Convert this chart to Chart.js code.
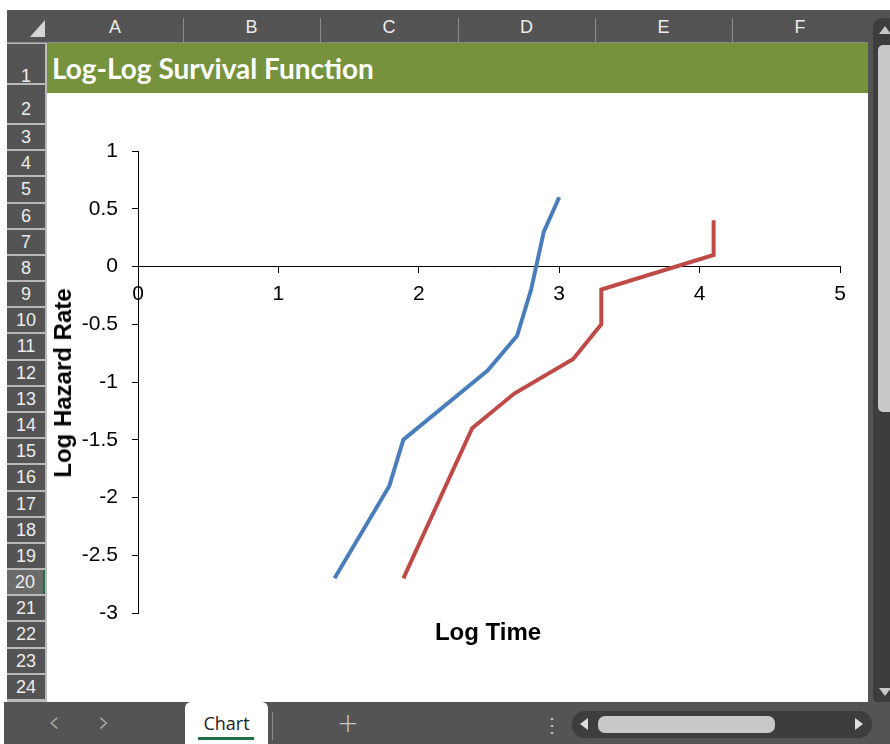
<!DOCTYPE html>
<html>
<head>
<meta charset="utf-8">
<script src="https://cdn.jsdelivr.net/npm/chart.js@4.4.1/dist/chart.umd.min.js"></script>
<style>
  html, body { margin: 0; padding: 0; background: #fff; }
  body { width: 890px; height: 744px; position: relative; overflow: hidden; font-family: "Liberation Sans", Arial, sans-serif; }
  .abs { position: absolute; }
  #colHeader { left: 7px; top: 10px; width: 861px; height: 33px; background: #545454; border-bottom: 1px solid #8d8d8d; box-sizing: border-box; }
  .colSep { position: absolute; top: 8px; width: 1px; height: 25px; background: #8d8d8d; }
  .colLbl { position: absolute; top: 0; height: 32px; line-height: 34px; color: #ececec; font-size: 18px; text-align: center; }
  #corner { left: 30px; top: 20px; width: 0; height: 0; border-left: 15px solid transparent; border-bottom: 17px solid #d4d4d4; }
  #rowHeader { left: 7px; top: 43px; width: 40px; height: 659px; background: #b9b9b9; }
  .rowBox { position: absolute; left: 0; width: 38px; background: #545454; color: #ececec; font-size: 18px; text-align: center; box-sizing: border-box; }
  #band { left: 47px; top: 43px; width: 821px; height: 50px; background: #76923c; }
  #bandTitle { left: 52px; top: 51px; color: #fff; font-family: "Lato", "Open Sans", sans-serif; font-weight: bold; font-size: 28px; white-space: nowrap; }
  #chartBox { left: 47px; top: 93px; width: 821px; height: 609px; }
  .axTitle { position: absolute; font-weight: bold; font-size: 24px; color: #000; white-space: nowrap; }
  #rightStrip { left: 868px; top: 10px; width: 22px; height: 692px; background: #545454; }
  #vTrack { left: 873px; top: 18px; width: 24px; height: 687px; background: #3d3d3d; border-radius: 9px; }
  #vThumb { left: 878px; top: 45px; width: 16px; height: 367px; background: #c8c8c8; border-radius: 5px; }
  #bottomBar { left: 4px; top: 702px; width: 886px; height: 42px; background: #545454; }
  #tab { left: 185px; top: 702px; width: 83px; height: 42px; background: #fff; border-radius: 6px 6px 0 0; }
  #tabText { left: 185px; top: 711px; width: 83px; text-align: center; font-family: "Open Sans", "Noto Sans", sans-serif; font-size: 18px; color: #222; }
  #tabLine { left: 198px; top: 737px; width: 56px; height: 3px; background: #1e7145; }
  .barGlyph { position: absolute; color: #a8a8a8; font-size: 30px; line-height: 30px; font-family: "DejaVu Sans", sans-serif; font-weight: 200; }
  #hTrack { left: 572px; top: 711px; width: 300px; height: 27px; background: #3d3d3d; border-radius: 13px; }
  #hThumb { left: 598px; top: 716px; width: 177px; height: 17px; background: #c8c8c8; border-radius: 7px; }
</style>
</head>
<body>
<div id="colHeader" class="abs"></div>
<div id="corner" class="abs"></div>
<div id="rowHeader" class="abs"></div>
<div id="band" class="abs"></div>
<div id="bandTitle" class="abs">Log-Log Survival Function</div>
<div id="rightStrip" class="abs"></div>
<div id="vTrack" class="abs"></div>
<div id="vThumb" class="abs"></div>
<div class="abs" style="left:879px;top:26px;width:0;height:0;border-left:6px solid transparent;border-right:6px solid transparent;border-bottom:8px solid #c8c8c8;"></div>
<div class="abs" style="left:879px;top:688px;width:0;height:0;border-left:6px solid transparent;border-right:6px solid transparent;border-top:8px solid #c8c8c8;"></div>

<div id="chartBox" class="abs"><canvas id="chart" width="821" height="609"></canvas></div>
<div class="axTitle" style="left:488px;top:632px;transform:translate(-50%,-50%);">Log Time</div>
<div class="axTitle" style="left:63px;top:383px;transform:translate(-50%,-50%) rotate(-90deg);">Log Hazard Rate</div>

<div id="bottomBar" class="abs"></div>
<div id="tab" class="abs"></div>
<div id="tabText" class="abs">Chart</div>
<div id="tabLine" class="abs"></div>
<div class="abs" style="left:272px;top:712px;width:1px;height:28px;background:#8d8d8d;"></div>
<div class="barGlyph" style="left:48px;top:707px;">‹</div>
<div class="barGlyph" style="left:98px;top:707px;">›</div>
<div class="barGlyph" style="left:337px;top:708px;color:#c8c8c8;font-size:26px;">+</div>
<div class="barGlyph" style="left:542px;top:710px;color:#c8c8c8;font-size:20px;">⋮</div>
<div id="hTrack" class="abs"></div>
<div id="hThumb" class="abs"></div>
<div class="abs" style="left:580px;top:718px;width:0;height:0;border-top:6px solid transparent;border-bottom:6px solid transparent;border-right:8px solid #e0e0e0;"></div>
<div class="abs" style="left:855px;top:718px;width:0;height:0;border-top:6px solid transparent;border-bottom:6px solid transparent;border-left:8px solid #e0e0e0;"></div>

<script>
// spreadsheet labels
const columnLetters = ["A", "B", "C", "D", "E", "F"];
const rowNumbers = Array.from({ length: 24 }, (_, i) => i + 1);

// series
const logTimeBlue = [1.40, 1.79, 1.89, 2.49, 2.70, 2.80, 2.89, 3.00];
const logHazardBlue = [-2.70, -1.90, -1.50, -0.90, -0.60, -0.20, 0.30, 0.60];
const logTimeRed = [1.89, 2.38, 2.68, 3.10, 3.30, 3.30, 4.10, 4.10];
const logHazardRed = [-2.70, -1.40, -1.10, -0.80, -0.50, -0.20, 0.10, 0.40];

// axis ranges
const xMin = 0, xMax = 5, xStep = 1;
const yMin = -3, yMax = 1, yStep = 0.5;

// column header
const colEdges = [47, 183, 320, 458, 595, 732, 868];
const colHeader = document.getElementById("colHeader");
columnLetters.forEach((letter, i) => {
  const lbl = document.createElement("div");
  lbl.className = "colLbl";
  lbl.style.left = (colEdges[i] - 7) + "px";
  lbl.style.width = (colEdges[i + 1] - colEdges[i]) + "px";
  lbl.textContent = letter;
  colHeader.appendChild(lbl);
  if (i > 0) {
    const sep = document.createElement("div");
    sep.className = "colSep";
    sep.style.left = (colEdges[i] - 7) + "px";
    colHeader.appendChild(sep);
  }
});

// row header
const rowHeader = document.getElementById("rowHeader");
rowNumbers.forEach((n) => {
  let top, h;
  if (n === 1) { top = 0; h = 41; }
  else if (n === 2) { top = 41; h = 40; }
  else { top = 81 + (n - 3) * 26.18; h = 26.18; }
  const box = document.createElement("div");
  box.className = "rowBox";
  box.style.top = (top + 1) + "px";
  box.style.height = (h - 2) + "px";
  if (n === 1) {
    box.style.lineHeight = "normal";
    box.style.paddingTop = "22px";
  } else if (n === 2) {
    box.style.lineHeight = "normal";
    box.style.paddingTop = "14px";
  } else {
    box.style.lineHeight = (h - 2) + "px";
  }
  if (n === 20) {
    box.style.background = "#6b6b6b";
    box.style.borderRight = "2px solid #1e7145";
  }
  box.textContent = n;
  rowHeader.appendChild(box);
});

function pairs(xs, ys) {
  return xs.map((x, i) => ({ x, y: ys[i] }));
}

const tickFont = { family: "'Liberation Sans', Arial, sans-serif", size: 21 };

new Chart(document.getElementById("chart"), {
  type: "scatter",
  data: {
    datasets: [
      {
        label: "Group 1",
        data: pairs(logTimeBlue, logHazardBlue),
        showLine: true,
        borderColor: "#4a7ebb",
        borderWidth: 4,
        pointRadius: 0,
        tension: 0
      },
      {
        label: "Group 2",
        data: pairs(logTimeRed, logHazardRed),
        showLine: true,
        borderColor: "#be4b48",
        borderWidth: 4,
        pointRadius: 0,
        tension: 0
      }
    ]
  },
  options: {
    responsive: false,
    animation: false,
    layout: { padding: { left: 0, right: 28, top: 58, bottom: 89 } },
    plugins: { legend: { display: false }, tooltip: { enabled: false } },
    scales: {
      x: {
        type: "linear",
        position: { y: 0 },
        min: xMin,
        max: xMax,
        ticks: { stepSize: xStep, color: "#000", font: tickFont, padding: 9, autoSkip: false, maxRotation: 0,
          callback: (v) => String(v) },
        grid: { drawOnChartArea: false, tickLength: 6, tickColor: "#000" },
        border: { color: "#000", width: 1 },
        afterFit: (scale) => { scale.height = 0; }
      },
      y: {
        type: "linear",
        position: "left",
        min: yMin,
        max: yMax,
        ticks: { stepSize: yStep, color: "#000", font: tickFont, padding: 14, autoSkip: false,
          callback: (v) => String(v) },
        grid: { drawOnChartArea: false, tickLength: 6, tickColor: "#000" },
        border: { color: "#000", width: 1 },
        afterFit: (scale) => { scale.width = 91; }
      }
    }
  }
});
</script>
</body>
</html>
